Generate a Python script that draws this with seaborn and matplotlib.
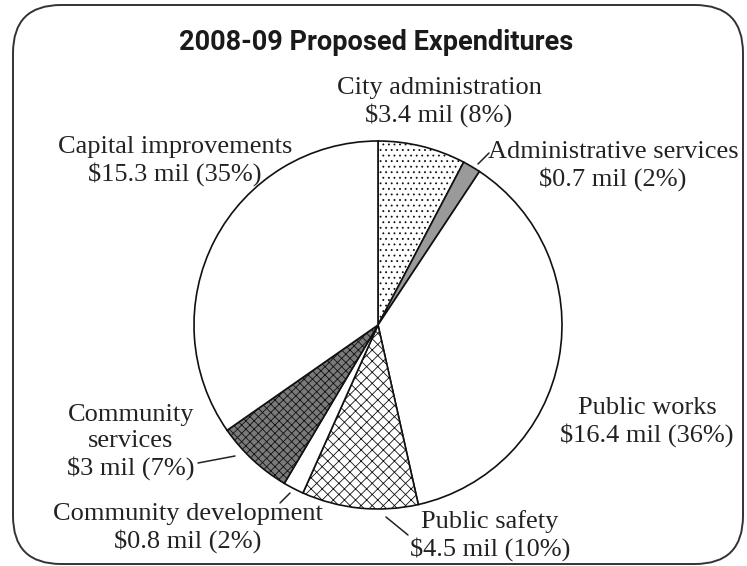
import matplotlib
matplotlib.use('Agg')
import matplotlib.pyplot as plt
from matplotlib.patches import FancyBboxPatch
import seaborn as sns

# data (millions of dollars, clockwise from top)
categories = ['City administration', 'Administrative services', 'Public works',
              'Public safety', 'Community development', 'Community services',
              'Capital improvements']
amounts = [3.4, 0.7, 16.4, 4.5, 0.8, 3.0, 15.3]
amount_text = ['$3.4 mil', '$0.7 mil', '$16.4 mil', '$4.5 mil', '$0.8 mil', '$3 mil', '$15.3 mil']
percent_text = ['8%', '2%', '36%', '10%', '2%', '7%', '35%']
label_names = ['City administration', 'Administrative services', 'Public works',
               'Public safety', 'Community development', 'Community\nservices',
               'Capital improvements']

# styling of each wedge
faces = ['white', '#9a9a9a', 'white', 'white', 'white', '#7a7a7a', 'white']
hatches = ['...', None, None, 'xxx', None, 'xxxx', None]

# label centres in pixels (x from left, y from top)
label_xy = [(439, 102), (613, 166), (647, 422), (490, 536),
            (188, 528), (131, 442), (175, 161)]
leaders = [None, ((478, 164), (489, 153)), None, ((386, 517), (408, 535)),
           ((280, 503), (290, 493)), ((235, 456), (198, 463)), None]

sns.set_theme(style='white')
plt.rcParams['hatch.linewidth'] = 0.6
serif = ['Liberation Serif', 'DejaVu Serif']

W, H = 747, 566
fig = plt.figure(figsize=(W / 100, H / 100), dpi=100)

# background axes in pixel units for frame, title and labels
bg = fig.add_axes([0, 0, 1, 1])
bg.set_xlim(0, W)
bg.set_ylim(H, 0)
bg.axis('off')
frame = FancyBboxPatch((13, 5), 730, 559, boxstyle='round,pad=0,rounding_size=48',
                       facecolor='white', edgecolor='#333333', linewidth=1.4)
bg.add_patch(frame)
bg.text(376, 43, '2008-09 Proposed Expenditures', ha='center', va='center',
        fontsize=19.5, fontweight='bold', family=['Roboto', 'DejaVu Sans'],
        color='#1a1a1a')

# pie axes placed so the pie sits at centre (378, 325), radius 184 px
cx, cy, r = 378, 325, 184
ax = fig.add_axes([(cx - r) / W, (H - cy - r) / H, 2 * r / W, 2 * r / H])
wedges, _ = ax.pie(amounts, startangle=90, counterclock=False, radius=1,
                   colors=faces,
                   wedgeprops=dict(edgecolor='#111111', linewidth=1.2))
for w, h in zip(wedges, hatches):
    if h:
        w.set_hatch(h)
ax.set_xlim(-1, 1)
ax.set_ylim(-1, 1)
ax.axis('off')

for name, amt, pct, (x, y), seg in zip(label_names, amount_text, percent_text,
                                         label_xy, leaders):
    bg.text(x, y, f'{name}\n{amt} ({pct})', ha='center', va='center',
            fontsize=19, family=serif, color='#222222', linespacing=1.22)
    if seg:
        (x0, y0), (x1, y1) = seg
        bg.plot([x0, x1], [y0, y1], color='#222222', linewidth=1.1)

fig.savefig('out.png', dpi=100)
